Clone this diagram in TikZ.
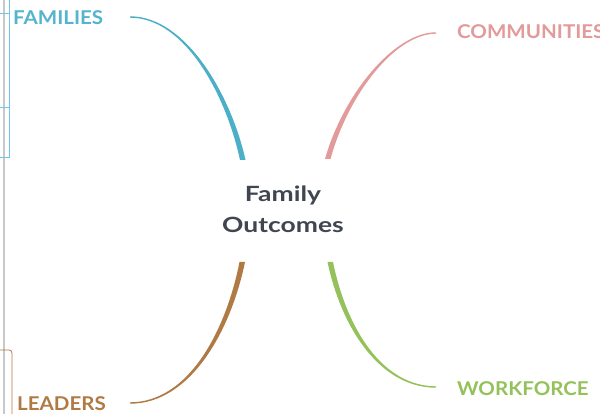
\documentclass[tikz,border=0pt]{standalone}
\usepackage{fontspec}
\setmainfont{Lato}
\newfontfamily\lblfont[FakeStretch=1.08]{Lato}
\newfontfamily\ctrfont[FakeStretch=1.26]{Lato}
\definecolor{cblue}{RGB}{75,175,200}
\definecolor{cbluetext}{RGB}{85,180,205}
\definecolor{cbracket}{RGB}{110,200,235}
\definecolor{cpink}{RGB}{226,154,154}
\definecolor{cbrown}{RGB}{176,122,69}
\definecolor{cgreen}{RGB}{148,193,89}
\definecolor{cdark}{RGB}{63,70,80}
\definecolor{cgray}{RGB}{200,200,200}
\tikzset{
  lbl/.style={font=\lblfont\fontsize{19}{20}\selectfont\bfseries, inner sep=0pt, anchor=base west},
  ctr/.style={font=\ctrfont\fontsize{21}{31.5}\selectfont\bfseries, text=cdark, align=center, inner sep=0pt}
}
\begin{document}
\begin{tikzpicture}[x=1pt,y=-1pt]
\useasboundingbox (0,0) rectangle (600,414);
\fill[white] (0,0) rectangle (600,414);
% left edge lines
\draw[cgray, line width=1.2pt] (4,0) -- (4,414);
\draw[cbracket, line width=1pt] (0,14) -- (9,14) (0,108) -- (9,108) (9,0) -- (9,158) -- (0,158);
\draw[cbrown, line width=0.8pt, rounded corners=3pt] (0,350) -- (12,350) -- (12,414);
% center
\node[ctr] (c) at (283,209.5) {Family\\Outcomes};
% labels
\node[lbl, text=cbluetext] (fam) at (13,25) {FAMILIES};
\node[lbl, text=cpink] (com) at (457,38.5) {COMMUNITIES};
\node[lbl, text=cgreen] (wrk) at (457,395) {WORKFORCE};
\node[lbl, text=cbrown] (lead) at (17,410) {LEADERS};
% tapered branches
\fill[cblue] (130,16.3) .. controls (186,16.3) and (231,95) .. (245.5,160) -- (240,160) .. controls (226,95) and (185,17.7) .. (130,17.7) -- cycle;
\fill[cpink] (436,32.3) .. controls (394,32.3) and (343,95) .. (325,159) -- (330.5,159) .. controls (348,95) and (395,33.7) .. (436,33.7) -- cycle;
\fill[cbrown] (245,262) .. controls (231,330) and (191,403.7) .. (130,403.7) -- (130,402.3) .. controls (189,402.3) and (226,330) .. (239.5,262) -- cycle;
\fill[cgreen] (327.5,262) .. controls (342,330) and (381,387.7) .. (436,387.7) -- (436,386.3) .. controls (383,386.3) and (347,330) .. (333,262) -- cycle;
\end{tikzpicture}
\end{document}
